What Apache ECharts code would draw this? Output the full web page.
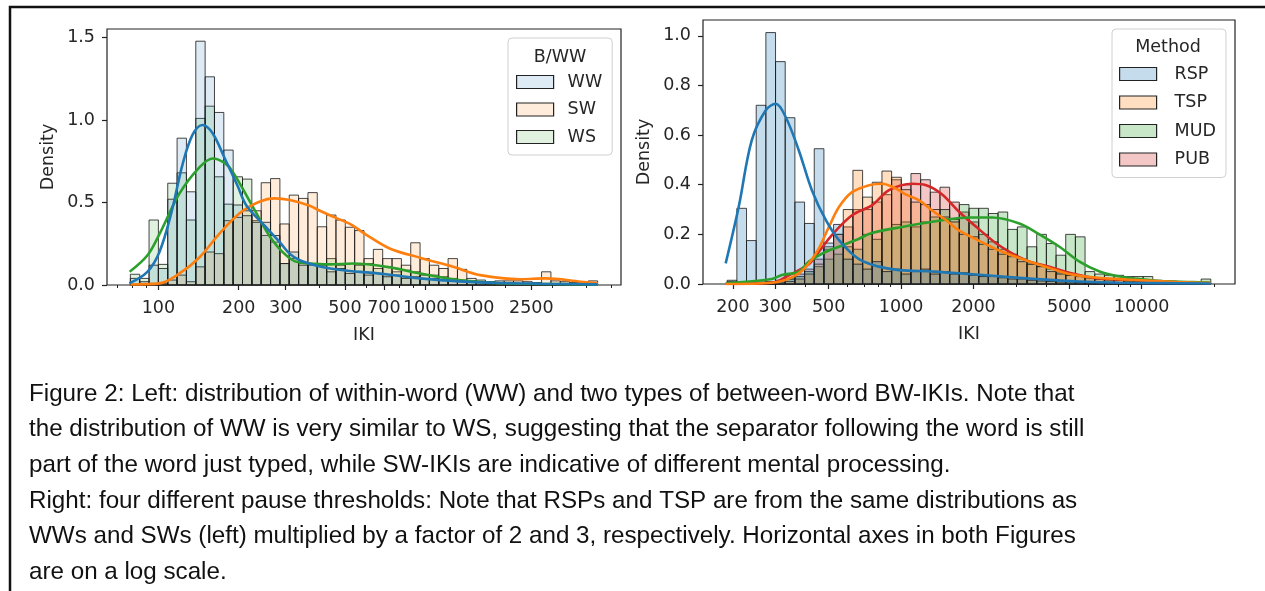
<!DOCTYPE html>
<html><head><meta charset="utf-8">
<script src="https://cdn.jsdelivr.net/npm/echarts@6/dist/echarts.min.js"></script>
<style>html,body{margin:0;padding:0;background:#fff;}#c{width:1265px;height:591px;}</style>
</head><body><div id="c"></div>
<script>
// ---------- data ----------
const leftBinMin = 78.5, leftBinMax = 4430;      // IKI range of left histogram bins
const rightBinMin = 189.3, rightBinMax = 19390;  // IKI range of right histogram bins
const binCount = 50;

const leftCategories = ['WW', 'SW', 'WS'];
const rightCategories = ['RSP', 'TSP', 'MUD', 'PUB'];

const leftMajorTicks = [100, 200, 300, 500, 700, 1000, 1500, 2500];
const leftMinorTicks = [70, 80, 90, 400, 600, 800, 900, 2000, 3000, 4000, 5000];
const rightMajorTicks = [200, 300, 500, 1000, 2000, 5000, 10000];
const rightMinorTicks = [400, 600, 700, 800, 900, 3000, 4000, 6000, 7000, 8000, 9000, 20000];
const leftYTicks = [0, 0.5, 1.0, 1.5];
const rightYTicks = [0, 0.2, 0.4, 0.6, 0.8, 1.0];

// histogram densities per bin
const histWW = [0.04, 0.02, 0.12, 0.10, 0.52, 0.89, 0.565, 1.478, 1.262, 1.046, 0.818, 0.485, 0.42, 0.38,
  0.38, 0.30, 0.13, 0.20, 0.12, 0.13, 0.12, 0.08, 0.10, 0.07, 0.08, 0.06, 0.07, 0.05, 0.06, 0.04, 0.05, 0.035,
  0.04, 0.03, 0.03, 0.02, 0.025, 0.015, 0.02, 0.01, 0.012, 0.008, 0.01, 0.005, 0.006, 0.004, 0.005, 0.003, 0.003, 0.004];
const histSW = [0, 0.005, 0.01, 0.01, 0.03, 0.06, 0.02,
  0.11, 0.20, 0.19, 0.39, 0.41, 0.45, 0.45, 0.62, 0.645, 0.37,
  0.545, 0.525, 0.56, 0.353, 0.424, 0.394, 0.35, 0.33, 0.16, 0.216, 0.16, 0.16, 0.12, 0.256, 0.16, 0.12, 0.10, 0.16, 0.095,
  0.04, 0.03, 0.02, 0.025, 0.025, 0.025, 0.02, 0.015, 0.08, 0.025, 0.02, 0.015, 0.01, 0.025];
const histWS = [0.065, 0.04, 0.394, 0.125, 0.617, 0.68, 0.394, 1.01, 1.084, 0.656, 0.49, 0.656, 0.642, 0.39,
  0.30, 0.26, 0.13, 0.16, 0.13, 0.12, 0.13, 0.16, 0.12, 0.13, 0.12, 0.13, 0.10, 0.11, 0.08, 0.09, 0.08, 0.06,
  0.06, 0.05, 0.04, 0.03, 0.025, 0.02, 0.015, 0.012, 0.01, 0.008, 0.006, 0.005, 0.004, 0.004, 0.003, 0.002, 0.002, 0.003];

const histRSP = [0.015, 0.305, 0.175, 0.72, 1.013, 0.896, 0.67, 0.33, 0.244, 0.545, 0.165, 0.24,
  0.10, 0.08, 0.06, 0.09, 0.05, 0.06, 0.04, 0.05, 0.06, 0.04, 0.05, 0.04, 0.045, 0.035, 0.03, 0.03, 0.025, 0.02,
  0.02, 0.015, 0.012, 0.01, 0.008, 0.008, 0.006, 0.005, 0.004, 0.004, 0.003, 0.003, 0.002, 0.002, 0.002, 0.001,
  0.001, 0.001, 0.001, 0.001];
const histTSP = [0.01, 0, 0, 0.002, 0.003, 0.005, 0.01,
  0.02, 0.04, 0.08, 0.15, 0.20, 0.30, 0.458, 0.35, 0.41, 0.455, 0.43, 0.38, 0.33, 0.32, 0.30, 0.27, 0.25, 0.20,
  0.19, 0.16, 0.14, 0.12, 0.11, 0.09, 0.08, 0.07, 0.05, 0.04,
  0.035, 0.03, 0.025, 0.02, 0.02, 0.015, 0.015, 0.012, 0.01, 0.008, 0.006, 0.005, 0.003, 0.002, 0.002];
const histMUD = [0.002, 0.003, 0.005, 0.008, 0.01, 0.015, 0.02, 0.03, 0.05, 0.07, 0.10, 0.12, 0.15, 0.14, 0.20,
  0.18, 0.22, 0.24, 0.25, 0.23, 0.25, 0.27, 0.30, 0.26,
  0.32, 0.305, 0.305, 0.284, 0.29, 0.22, 0.23, 0.15, 0.20, 0.163, 0.116, 0.20, 0.19, 0.05, 0.04, 0.035, 0.035,
  0.03, 0.03, 0.03, 0.015, 0.01, 0.008, 0.006, 0.005, 0.02];
const histPUB = [0, 0, 0.002, 0.004, 0.006, 0.01, 0.02, 0.04, 0.06,
  0.10, 0.14, 0.20, 0.23, 0.30, 0.30, 0.33, 0.36, 0.42, 0.40, 0.445, 0.42, 0.37, 0.39, 0.33, 0.29, 0.25, 0.20,
  0.17, 0.14, 0.12, 0.10, 0.08, 0.07, 0.06, 0.045, 0.035, 0.03, 0.025, 0.02, 0.015, 0.015, 0.01, 0.01, 0.008,
  0.006, 0.005, 0.004, 0.003, 0.002, 0.002];

// KDE curves: [IKI, density]
const kdeWW = [[77.8, 0.01], [90.9, 0.08], [100.9, 0.20], [111.9, 0.44], [123.1, 0.73], [134.2, 0.91], [146.3, 0.97],
  [159.6, 0.92], [177, 0.77], [198.2, 0.60], [214, 0.48], [250, 0.36], [285, 0.26], [310, 0.19], [339, 0.15],
  [396, 0.115], [440, 0.10], [522, 0.085], [621, 0.075], [805, 0.055], [957, 0.04], [1355, 0.022], [1914, 0.012],
  [2705, 0.008], [4431, 0.004]];
const kdeWS = [[78, 0.08], [91, 0.18], [101, 0.31], [120, 0.555], [143, 0.716], [160, 0.767], [177, 0.74],
  [190, 0.686], [226, 0.474], [268, 0.27], [319, 0.15], [370, 0.13], [440, 0.125], [535, 0.13], [719, 0.11],
  [957, 0.07], [1272, 0.035], [1707, 0.015], [2278, 0.008], [4431, 0.004]];
const kdeSW = [[78.5, 0.003], [101, 0.01], [120, 0.07], [143, 0.17], [169, 0.31], [201, 0.434], [239, 0.505],
  [273, 0.525], [311, 0.515], [369, 0.48], [403, 0.45], [458, 0.41], [522, 0.37], [621, 0.29], [739, 0.22],
  [957, 0.165], [1272, 0.11], [1608, 0.06], [2278, 0.035], [2826, 0.04], [3828, 0.02], [4431, 0.01]];

const kdeRSP = [[186.6, 0.083], [211.3, 0.31], [239.3, 0.578], [273.8, 0.70], [301.3, 0.726], [331.7, 0.672],
  [375.8, 0.538], [425.8, 0.378], [486.9, 0.257], [551.9, 0.177], [668.3, 0.10], [809.7, 0.07], [981, 0.056],
  [1373, 0.05], [1920, 0.04], [2634, 0.03], [3652, 0.02], [5517, 0.01], [8091, 0.005], [19387, 0.002]];
const kdeTSP = [[186.6, 0.0], [290, 0.005], [375.8, 0.043], [442.6, 0.123], [501.2, 0.23], [551.9, 0.31],
  [625.2, 0.37], [735.6, 0.398], [833.6, 0.404], [953, 0.384], [1049, 0.36], [1189, 0.337], [1373, 0.29],
  [1540, 0.257], [1745, 0.215], [2054, 0.18], [2559, 0.135], [3317, 0.095], [4137, 0.065], [5012, 0.04],
  [6251, 0.027], [8659, 0.018], [13990, 0.008], [19387, 0.004]];
const kdeMUD = [[186.6, 0.003], [290, 0.02], [319.4, 0.036], [375.8, 0.05], [413.7, 0.09], [486.9, 0.13],
  [551.9, 0.15], [649.4, 0.177], [756.6, 0.205], [1009.6, 0.23], [1482, 0.257], [1920, 0.268], [2393, 0.268],
  [3102, 0.244], [3758, 0.2], [4554, 0.15], [5517, 0.09], [6683, 0.05], [8091, 0.03], [9808, 0.02],
  [11885, 0.012], [16315, 0.008], [19387, 0.005]];
const kdePUB = [[186.6, 0.0], [290, 0.005], [341.5, 0.035], [413.7, 0.08], [455.4, 0.13], [515.8, 0.197],
  [625.2, 0.277], [756.6, 0.317], [891.3, 0.378], [1111, 0.404], [1271, 0.398], [1482, 0.361], [1745, 0.29],
  [2113, 0.22], [2559, 0.155], [3317, 0.095], [4137, 0.07], [5012, 0.045], [6251, 0.025], [8659, 0.017],
  [13990, 0.008], [19387, 0.004]];

const captionLines = [
  'Figure 2: Left: distribution of within-word (WW) and two types of between-word BW-IKIs. Note that',
  'the distribution of WW is very similar to WS, suggesting that the separator following the word is still',
  'part of the word just typed, while SW-IKIs are indicative of different mental processing.',
  'Right: four different pause thresholds: Note that RSPs and TSP are from the same distributions as',
  'WWs and SWs (left) multiplied by a factor of 2 and 3, respectively. Horizontal axes in both Figures',
  'are on a log scale.'
];

// ---------- helpers ----------
const L10 = Math.log10;
const COLORS = {blue: [31, 119, 180], orange: [255, 127, 14], green: [44, 160, 44], red: [214, 39, 40]};
const rgba = (c, a) => `rgba(${c[0]},${c[1]},${c[2]},${a})`;
const FONT = 'DejaVu Sans';
const FS = 17.5;
const TXT = '#262626';

function edges(min, max) {
  const lo = L10(min), hi = L10(max), out = [];
  for (let i = 0; i <= binCount; i++) out.push(lo + (hi - lo) * i / binCount);
  return out;
}
function limits(min, max) {
  const lo = L10(min), hi = L10(max), pad = 0.05 * (hi - lo);
  return [lo - pad, hi + pad];
}
const leftEdges = edges(leftBinMin, leftBinMax);
const rightEdges = edges(rightBinMin, rightBinMax);
const leftLim = limits(leftBinMin, leftBinMax);
const rightLim = limits(rightBinMin, rightBinMax);
const leftYMax = 1.05 * Math.max(...histWW, ...histSW, ...histWS);
const rightYMax = 1.05 * Math.max(...histRSP, ...histTSP, ...histMUD, ...histPUB);

function histSeries(name, values, edg, fill, xi, yi) {
  return {
    type: 'custom', name, xAxisIndex: xi, yAxisIndex: yi, silent: true, z: 2,
    itemStyle: {color: fill},
    data: values.map((v, i) => [edg[i], edg[i + 1], v]),
    encode: {x: [0, 1], y: 2},
    renderItem: (params, api) => {
      const p0 = api.coord([api.value(0), 0]);
      const p1 = api.coord([api.value(1), api.value(2)]);
      return {type: 'rect', shape: {x: p0[0], y: p1[1], width: p1[0] - p0[0], height: p0[1] - p1[1]},
        style: {fill, stroke: 'rgba(25,25,25,0.8)', lineWidth: 1}};
    }
  };
}
function kdeSeries(name, pts, color, xi, yi) {
  return {
    type: 'line', name, xAxisIndex: xi, yAxisIndex: yi, z: 4, silent: true,
    data: pts.map(p => [L10(p[0]), p[1]]), showSymbol: false, symbol: 'none', smooth: 0.35,
    lineStyle: {color, width: 2.6}
  };
}
function xAxes(grid, lim, major, minor) {
  const base = {type: 'value', gridIndex: grid, min: lim[0], max: lim[1], position: 'bottom',
    splitLine: {show: false}, axisLine: {show: false}};
  return [
    Object.assign({}, base, {
      name: 'IKI', nameLocation: 'middle', nameGap: 41,
      nameTextStyle: {fontFamily: FONT, fontSize: FS, color: TXT},
      axisTick: {show: true, customValues: major.map(L10), length: 5, lineStyle: {color: '#222', width: 1.2}},
      axisLabel: {show: true, customValues: major.map(L10), margin: 14, fontFamily: FONT, fontSize: FS, color: TXT,
        formatter: v => String(Math.round(Math.pow(10, v)))}
    }),
    Object.assign({}, base, {
      axisTick: {show: true, customValues: minor.map(L10), length: 3, lineStyle: {color: '#222', width: 1}},
      axisLabel: {show: false}
    })
  ];
}
function yAxis(grid, max, ticks, nameGap) {
  return {
    type: 'value', gridIndex: grid, min: 0, max, splitLine: {show: false}, axisLine: {show: false},
    name: 'Density', nameLocation: 'middle', nameGap,
    nameTextStyle: {fontFamily: FONT, fontSize: FS, color: TXT},
    axisTick: {show: true, customValues: ticks, length: 5, lineStyle: {color: '#222', width: 1.2}},
    axisLabel: {show: true, customValues: ticks, margin: 12, fontFamily: FONT, fontSize: FS, color: TXT,
      formatter: v => v.toFixed(1)}
  };
}
function legend(names, colors, alpha, left, top, padding, gap, textPad) {
  return {
    show: true, orient: 'vertical', left, top, padding, itemGap: gap,
    itemWidth: 37, itemHeight: 13, selectedMode: false,
    borderColor: '#d0d0d0', borderWidth: 1, borderRadius: 4, backgroundColor: 'rgba(255,255,255,0.85)',
    textStyle: {fontFamily: FONT, fontSize: FS, color: TXT, lineHeight: 18, padding: [0, 0, 0, textPad]},
    data: names.map((n, i) => ({name: n, icon: 'rect',
      itemStyle: {color: rgba(colors[i], alpha), borderColor: '#222', borderWidth: 1.2}}))
  };
}

const aL = 0.15, aR = 0.26;
const leftCols = [COLORS.blue, COLORS.orange, COLORS.green];
const rightCols = [COLORS.blue, COLORS.orange, COLORS.green, COLORS.red];
const leftHist = [histWW, histSW, histWS];
const leftKde = [kdeWW, kdeSW, kdeWS];
const rightHist = [histRSP, histTSP, histMUD, histPUB];
const rightKde = [kdeRSP, kdeTSP, kdeMUD, kdePUB];

const series = [];
for (let i = leftCategories.length - 1; i >= 0; i--)
  series.push(histSeries(leftCategories[i], leftHist[i], leftEdges, rgba(leftCols[i], aL), 0, 0));
for (let i = rightCategories.length - 1; i >= 0; i--)
  series.push(histSeries(rightCategories[i], rightHist[i], rightEdges, rgba(rightCols[i], aR), 2, 1));
for (let i = leftCategories.length - 1; i >= 0; i--)
  series.push(kdeSeries(leftCategories[i] + ' kde', leftKde[i], rgba(leftCols[i], 1), 0, 0));
for (let i = rightCategories.length - 1; i >= 0; i--)
  series.push(kdeSeries(rightCategories[i] + ' kde', rightKde[i], rgba(rightCols[i], 1), 2, 1));

const captionY0 = 394, captionStep = 35.7;
const graphics = [
  {type: 'polyline', shape: {points: [[10, 591], [10, 7], [1265, 7]]}, style: {stroke: '#111', lineWidth: 2.5, fill: null}, z: 10},
  {type: 'text', x: 560, y: 57, style: {text: 'B/WW', font: `${FS}px "${FONT}"`, fill: TXT, align: 'center', verticalAlign: 'middle'}, z: 10},
  {type: 'text', x: 1168, y: 47, style: {text: 'Method', font: `${FS}px "${FONT}"`, fill: TXT, align: 'center', verticalAlign: 'middle'}, z: 10}
].concat(captionLines.map((t, i) => ({
  type: 'text', x: 29, y: captionY0 + i * captionStep,
  style: {text: t, font: '24.2px "Liberation Sans"', fill: '#111', align: 'left', verticalAlign: 'middle'}
})));

const chart = echarts.init(document.getElementById('c'), null, {renderer: 'canvas', width: 1265, height: 591});
chart.setOption({
  animation: false,
  backgroundColor: '#fff',
  grid: [
    {left: 107, top: 29, width: 514, height: 256, show: true, borderColor: '#222', borderWidth: 1.2, backgroundColor: 'transparent'},
    {left: 703, top: 20, width: 532, height: 264, show: true, borderColor: '#222', borderWidth: 1.2, backgroundColor: 'transparent'}
  ],
  xAxis: xAxes(0, leftLim, leftMajorTicks, leftMinorTicks).concat(xAxes(1, rightLim, rightMajorTicks, rightMinorTicks)),
  yAxis: [yAxis(0, leftYMax, leftYTicks, 50), yAxis(1, rightYMax, rightYTicks, 50)],
  legend: [
    legend(leftCategories, leftCols, aL, 508, 38, [35, 10, 9, 8], 9.5, 9),
    legend(rightCategories, rightCols, aR, 1112, 29, [36, 10, 9, 7], 10.5, 13)
  ],
  series,
  graphic: graphics
});
</script>
</body></html>
